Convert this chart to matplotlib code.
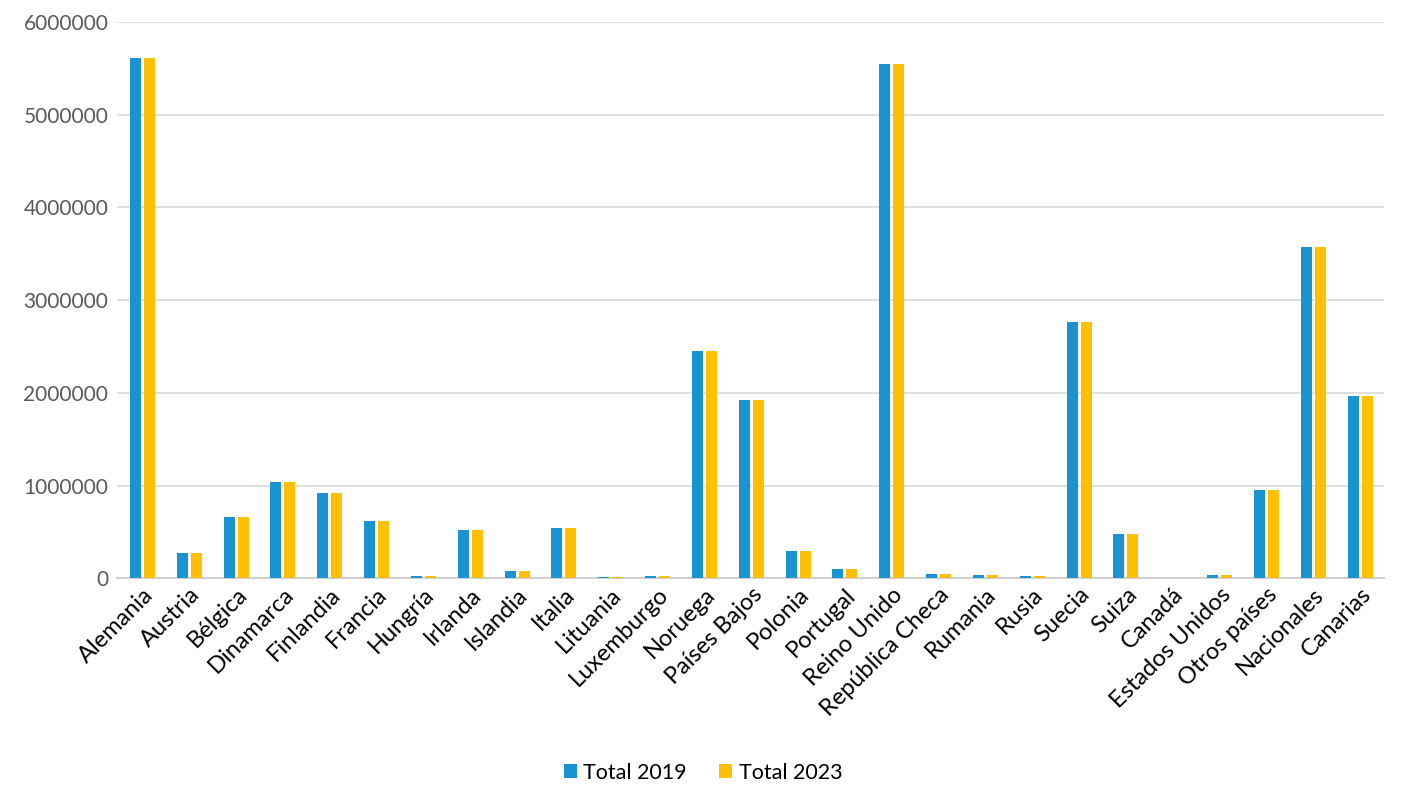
import matplotlib
matplotlib.use('Agg')
import matplotlib.pyplot as plt
import numpy as np

plt.rcParams['font.family'] = ['Lato', 'DejaVu Sans']

# valores (viajeros por pais de origen)
paises = ['Alemania', 'Austria', 'Bélgica', 'Dinamarca', 'Finlandia', 'Francia',
          'Hungría', 'Irlanda', 'Islandia', 'Italia', 'Lituania', 'Luxemburgo',
          'Noruega', 'Países Bajos', 'Polonia', 'Portugal', 'Reino Unido',
          'República Checa', 'Rumania', 'Rusia', 'Suecia', 'Suiza', 'Canadá',
          'Estados Unidos', 'Otros países', 'Nacionales', 'Canarias']
total_2019 = [5610000, 270000, 660000, 1036000, 917000, 615000,
              25000, 518000, 80000, 546000, 14000, 25000,
              2450000, 1921000, 291000, 97000, 5547000,
              47000, 36000, 25000, 2763000, 475000, 0,
              36000, 950000, 3572000, 1964000]
total_2023 = [5610000, 270000, 660000, 1036000, 917000, 615000,
              25000, 518000, 80000, 546000, 14000, 25000,
              2450000, 1921000, 291000, 97000, 5547000,
              47000, 36000, 25000, 2763000, 475000, 0,
              36000, 950000, 3572000, 1964000]
yticks = [0, 1000000, 2000000, 3000000, 4000000, 5000000, 6000000]

fig = plt.figure(figsize=(14.06, 8.1), dpi=100)
ax = fig.add_axes([0.083, 0.286, 0.901, 0.687])

x = np.arange(len(paises))
w = 0.235
ax.bar(x - 0.15, total_2019, w, color='#1A94D0', label='Total 2019', zorder=3)
ax.bar(x + 0.15, total_2023, w, color='#FFC000', label='Total 2023', zorder=3)

ax.set_xlim(-0.55, len(paises) - 0.5)
ax.set_ylim(0, 6000000)
ax.set_yticks(yticks)
ax.set_yticklabels([str(v) for v in yticks])
ax.yaxis.grid(True, color='#D9D9D9', linewidth=1.2, zorder=0)
ax.tick_params(axis='y', length=0, labelsize=15, labelcolor='#595959', pad=6)
ax.tick_params(axis='x', length=0, labelsize=17, labelcolor='#000000', pad=4)
ax.set_xticks(x)
ax.set_xticklabels(paises, rotation=45, ha='right', rotation_mode='anchor')

for s in ['top', 'right', 'left']:
    ax.spines[s].set_visible(False)
ax.spines['bottom'].set_color('#D0D0D0')
ax.spines['bottom'].set_linewidth(1.5)

fig.legend(loc='lower center', bbox_to_anchor=(0.5, 0.01), ncol=2, frameon=False,
           fontsize=15.5, handlelength=0.6, handleheight=0.6, handletextpad=0.3,
           columnspacing=1.5)

fig.savefig('out.png', dpi=100)
